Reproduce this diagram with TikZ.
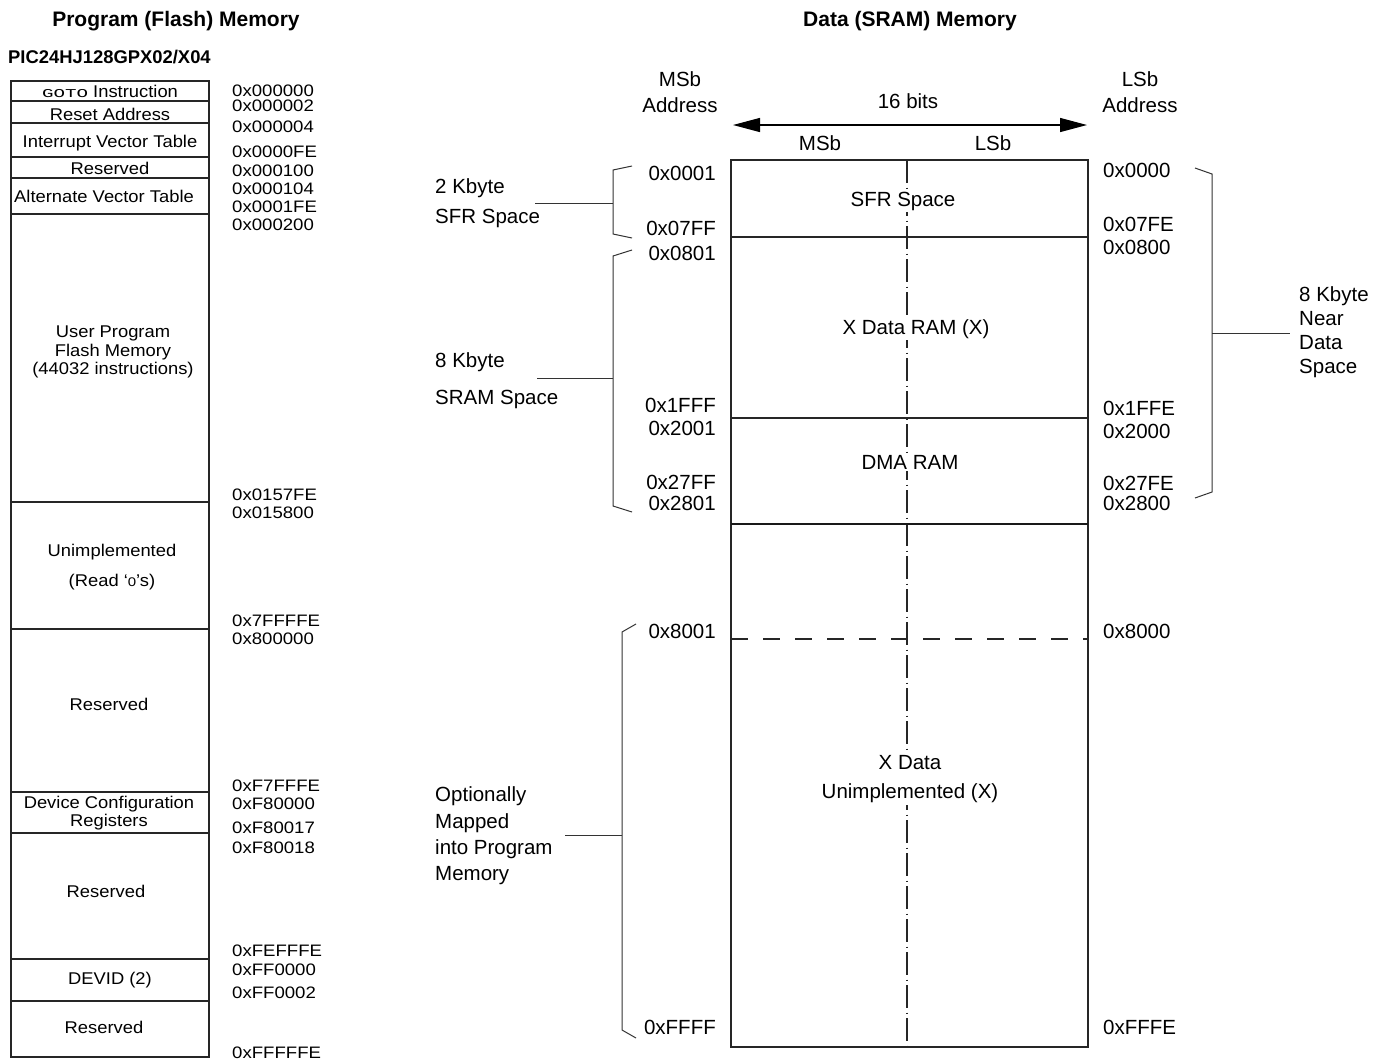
\documentclass[tikz,border=0pt]{standalone}
\usepackage{fontspec}
\setmainfont{Liberation Sans}
\newfontfamily\lfont[FakeStretch=1.08]{Liberation Sans}
\newfontfamily\afont[FakeStretch=1.12]{Liberation Sans}
\newfontfamily\gfont[FakeStretch=1.6]{Liberation Mono}
\newfontfamily\zfont[FakeStretch=1.2]{Liberation Sans}
\usetikzlibrary{arrows.meta}
\begin{document}
\begin{tikzpicture}[x=1pt,y=-1pt,
  boxline/.style={draw=black!85, line width=1.1pt},
  brk/.style={draw=black!80, line width=1pt},
  ltxt/.style={font=\lfont\fontsize{17}{18.5}\selectfont, inner sep=0pt, align=center},
  lone/.style={ltxt, anchor=base, yshift=-6pt},
  laddr/.style={font=\afont\fontsize{16.6}{18}\selectfont, inner sep=0pt, anchor=base west, yshift=-5.9pt},
  rtxt/.style={font=\fontsize{20.5}{25}\selectfont, inner sep=0pt},
  raddrL/.style={rtxt, anchor=base east, yshift=-7.3pt},
  raddrR/.style={rtxt, anchor=base west, yshift=-7.3pt},
  rone/.style={rtxt, anchor=base, yshift=-7.3pt},
  boxlab/.style={rtxt, fill=white, inner sep=1.5pt, anchor=base, yshift=-7.3pt},
  ttl/.style={font=\bfseries\fontsize{21}{25}\selectfont, inner sep=0pt, anchor=base, yshift=-7.5pt}]
\useasboundingbox (0,0) rectangle (1375,1061);
\fill[white] (0,0) rectangle (1375,1061);

% ---------- titles ----------
\node[ttl] (t1) at (176,19) {Program (Flash) Memory};
\node[ttl] (t2) at (910,19) {Data (SRAM) Memory};
\node[font=\bfseries\fontsize{18.4}{20}\selectfont, inner sep=0pt, anchor=base west, yshift=-6.5pt] (dev) at (8,57) {PIC24HJ128GPX02/X04};

% ---------- program memory column ----------
\draw[boxline] (11,81) rectangle (209,1057);
\foreach \yy in {101,123,157,178,214,502,629,792,833,959,1001}
  \draw[boxline] (11,\yy) -- (209,\yy);

\node[lone] (p1) at (110,91) {{\gfont\fontsize{12}{12}\selectfont GOTO} Instruction};
\node[lone] (p2) at (110,114) {Reset Address};
\node[lone] (p3) at (110,141) {Interrupt Vector Table};
\node[lone] (p4) at (110,168) {Reserved};
\node[lone] (p5) at (104,196) {Alternate Vector Table};
\node[ltxt, anchor=center] (p6) at (113,352) {User Program\\Flash Memory\\(44032 instructions)};
\node[ltxt, anchor=center, font=\lfont\fontsize{17}{30}\selectfont] (p7) at (112,567) {Unimplemented\\(Read ‘{\zfont\fontsize{12.5}{12}\selectfont 0}’s)};
\node[lone] (p8) at (109,704) {Reserved};
\node[ltxt, anchor=center] (p9) at (109,813) {Device Configuration\\Registers};
\node[lone] (p10) at (106,891) {Reserved};
\node[lone] (p11) at (110,978) {DEVID (2)};
\node[lone] (p12) at (104,1027) {Reserved};

\foreach \t/\yy [count=\i] in {0x000000/91,0x000002/106,0x000004/127,0x0000FE/152,0x000100/171,0x000104/189,0x0001FE/207,0x000200/225,0x0157FE/495,0x015800/513,0x7FFFFE/621,0x800000/639,0xF7FFFE/786,0xF80000/804,0xF80017/828,0xF80018/848,0xFEFFFE/951,0xFF0000/970,0xFF0002/993,0xFFFFFE/1053}
  \node[laddr] (la\i) at (232,\yy) {\t};

% ---------- data memory ----------
\node[rtxt, align=center, font=\fontsize{20.5}{26}\selectfont] (msb) at (680,92) {MSb\\Address};
\node[rtxt, align=center, font=\fontsize{20.5}{26}\selectfont] (lsb) at (1140,92) {LSb\\Address};
\node[rone] (bits) at (908,101) {16 bits};
\coordinate (aL) at (733,125);
\coordinate (aR) at (1087,125);
\draw[line width=1.3pt, {Triangle[length=27pt,width=14pt]}-{Triangle[length=27pt,width=14pt]}] (aL) -- (aR);
\node[rone] (hm) at (820,143) {MSb};
\node[rone] (hl) at (993,143) {LSb};

\draw[black!85, line width=1.1pt, dash pattern=on 23pt off 4.5pt on 1pt off 4.5pt] (907,160) -- (907,1047);
\draw[boxline] (731,160) rectangle (1088,1047);
\draw[boxline] (731,237) -- (1088,237);
\draw[boxline] (731,418) -- (1088,418);
\draw[draw=black!90, line width=2pt] (731,524) -- (1088,524);
\draw[black!85, line width=1.1pt, dash pattern=on 17pt off 15pt] (731,639) -- (1088,639);

\node[boxlab] (sfr) at (903,199) {SFR Space};
\node[boxlab] (xram) at (916,327) {X Data RAM (X)};
\node[boxlab] (dma) at (910,462) {DMA RAM};
\node[rtxt, fill=white, inner sep=2pt, align=center, font=\fontsize{20.5}{29}\selectfont] (xun) at (910,779) {X Data\\Unimplemented (X)};

\foreach \t/\yy [count=\i] in {0x0001/173,0x07FF/228,0x0801/253,0x1FFF/405,0x2001/428,0x27FF/482,0x2801/503,0x8001/631,0xFFFF/1027}
  \node[raddrL] (ra\i) at (716,\yy) {\t};
\foreach \t/\yy [count=\i] in {0x0000/170,0x07FE/224,0x0800/247,0x1FFE/408,0x2000/431,0x27FE/483,0x2800/503,0x8000/631,0xFFFE/1027}
  \node[raddrR] (rb\i) at (1103,\yy) {\t};

% ---------- brackets and their labels ----------
\node[rtxt, align=left, anchor=west, font=\fontsize{20.5}{30}\selectfont] (k2) at (435,203) {2 Kbyte\\SFR Space};
\coordinate (b1t) at (632,166); \coordinate (b1b) at (632,238); \coordinate (b1m) at (613,203);
\draw[brk] (b1t) -- (613,170) -- (613,234) -- (b1b);
\draw[brk] (b1m) -- (535,203);

\node[rtxt, align=left, anchor=west, font=\fontsize{20.5}{37}\selectfont] (k8) at (435,381) {8 Kbyte\\SRAM Space};
\coordinate (b2t) at (632,250); \coordinate (b2b) at (632,512); \coordinate (b2m) at (613,378);
\draw[brk] (b2t) -- (613,256) -- (613,506) -- (b2b);
\draw[brk] (b2m) -- (537,378);

\node[rtxt, align=left, anchor=west, font=\fontsize{20.5}{26.3}\selectfont] (opt) at (435,836) {Optionally\\Mapped\\into Program\\Memory};
\coordinate (b3t) at (636,624); \coordinate (b3b) at (636,1038); \coordinate (b3m) at (622,835);
\draw[brk] (b3t) -- (622,632) -- (622,1030) -- (b3b);
\draw[brk] (b3m) -- (565,835);

\node[rtxt, align=left, anchor=west, font=\fontsize{20.5}{24}\selectfont] (near) at (1299,332) {8 Kbyte\\Near\\Data\\Space};
\coordinate (b4t) at (1195,168); \coordinate (b4b) at (1195,498); \coordinate (b4m) at (1212,333);
\draw[brk] (b4t) -- (1212,174) -- (1212,492) -- (b4b);
\draw[brk] (b4m) -- (1290,333);
\end{tikzpicture}
\end{document}
